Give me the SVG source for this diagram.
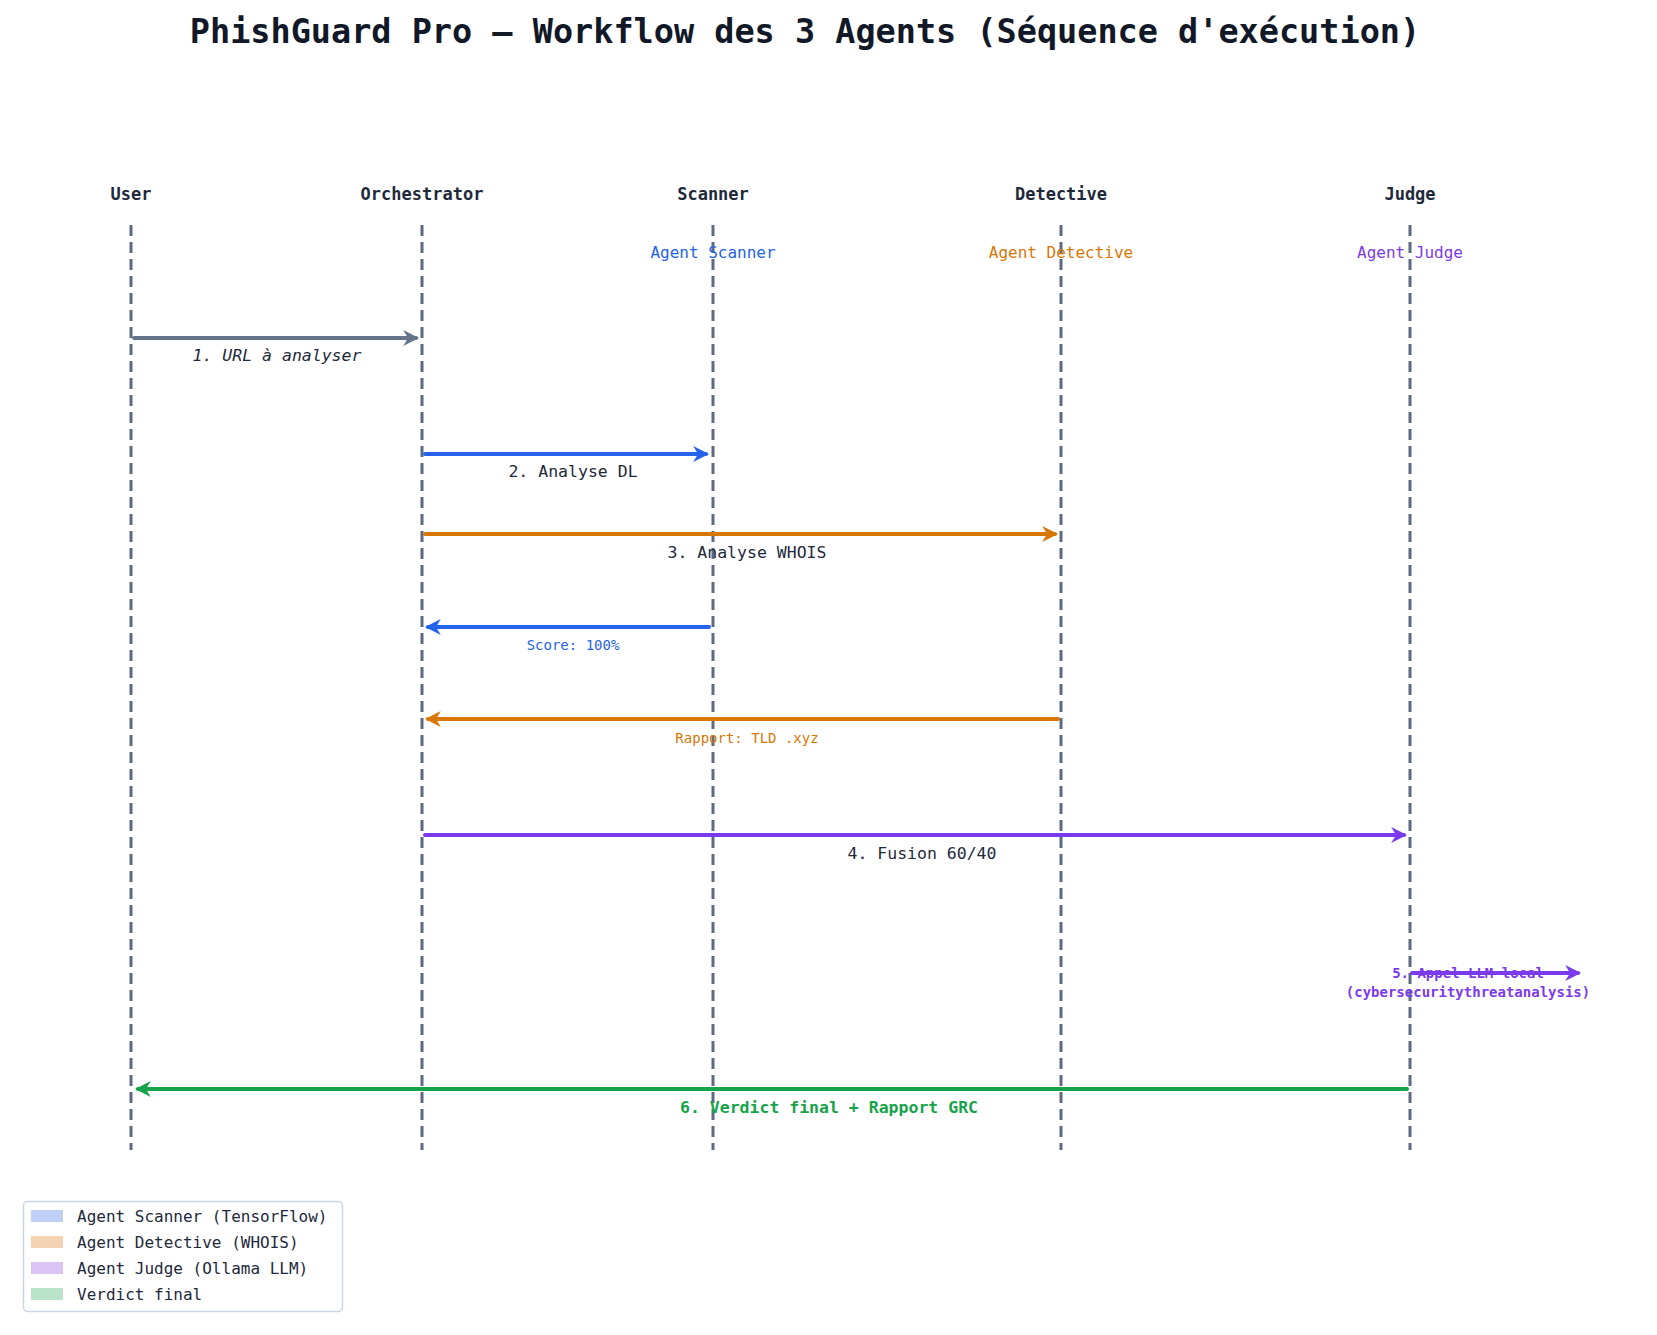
<svg xmlns="http://www.w3.org/2000/svg" width="1657" height="1335" viewBox="0 0 1657 1335">
<defs>
<style>
text{font-family:"DejaVu Sans Mono","Liberation Mono",monospace;}
.life{stroke:#5d6b82;stroke-width:3;stroke-dasharray:11,6;}
.hd{font-size:17px;font-weight:bold;fill:#1e293b;text-anchor:middle;}
.sub{font-size:16px;text-anchor:middle;}
.lb{font-size:16.5px;text-anchor:middle;}
.sm{font-size:14px;text-anchor:middle;}
.ar{stroke-width:4;fill:none;stroke-linecap:round;}
.lg{font-size:16px;fill:#1e293b;}
</style>
<marker id="mg" viewBox="0 0 10 10" refX="8" refY="5" markerWidth="4" markerHeight="4" orient="auto"><path d="M0,0L10,5L0,10L3,5Z" fill="#64748b"/></marker>
<marker id="mb" viewBox="0 0 10 10" refX="8" refY="5" markerWidth="4" markerHeight="4" orient="auto"><path d="M0,0L10,5L0,10L3,5Z" fill="#2563eb"/></marker>
<marker id="mo" viewBox="0 0 10 10" refX="8" refY="5" markerWidth="4" markerHeight="4" orient="auto"><path d="M0,0L10,5L0,10L3,5Z" fill="#d97706"/></marker>
<marker id="mp" viewBox="0 0 10 10" refX="8" refY="5" markerWidth="4" markerHeight="4" orient="auto"><path d="M0,0L10,5L0,10L3,5Z" fill="#7c3aed"/></marker>
<marker id="mgr" viewBox="0 0 10 10" refX="8" refY="5" markerWidth="4" markerHeight="4" orient="auto"><path d="M0,0L10,5L0,10L3,5Z" fill="#16a34a"/></marker>
</defs>
<rect width="1657" height="1335" fill="#fff"/>
<text x="805" y="43" font-size="33.5" font-weight="bold" fill="#111827" text-anchor="middle">PhishGuard Pro — Workflow des 3 Agents (Séquence d'exécution)</text>
<g id="user"><line class="life" x1="131" y1="225" x2="131" y2="1150"/><text class="hd" x="131" y="200">User</text></g>
<g id="orchestrator"><line class="life" x1="422" y1="225" x2="422" y2="1150"/><text class="hd" x="422" y="200">Orchestrator</text></g>
<g id="scanner"><line class="life" x1="713" y1="225" x2="713" y2="1150"/><text class="hd" x="713" y="200">Scanner</text><text class="sub" x="713" y="258" fill="#2563eb">Agent Scanner</text></g>
<g id="detective"><line class="life" x1="1061" y1="225" x2="1061" y2="1150"/><text class="hd" x="1061" y="200">Detective</text><text class="sub" x="1061" y="258" fill="#d97706">Agent Detective</text></g>
<g id="judge"><line class="life" x1="1410" y1="225" x2="1410" y2="1150"/><text class="hd" x="1410" y="200">Judge</text><text class="sub" x="1410" y="258" fill="#7c3aed">Agent Judge</text></g>
<g id="connectors">
<line class="ar" x1="134" y1="338" x2="416" y2="338" stroke="#64748b" marker-end="url(#mg)"/>
<text class="lb" x="277" y="361" font-style="italic" style="fill:#1e293b">1. URL à analyser</text>
<line class="ar" x1="425" y1="454" x2="706" y2="454" stroke="#2563eb" marker-end="url(#mb)"/>
<text class="lb" x="573" y="477" style="fill:#1e293b">2. Analyse DL</text>
<line class="ar" x1="425" y1="534" x2="1055" y2="534" stroke="#d97706" marker-end="url(#mo)"/>
<text class="lb" x="747" y="558" style="fill:#1e293b">3. Analyse WHOIS</text>
<line class="ar" x1="709" y1="627" x2="428" y2="627" stroke="#2563eb" marker-end="url(#mb)"/>
<text class="sm" x="573" y="650" style="fill:#2563eb">Score: 100%</text>
<line class="ar" x1="1058" y1="719" x2="428" y2="719" stroke="#d97706" marker-end="url(#mo)"/>
<text class="sm" x="747" y="743" style="fill:#d97706">Rapport: TLD .xyz</text>
<line class="ar" x1="425" y1="835" x2="1404" y2="835" stroke="#7c3aed" marker-end="url(#mp)"/>
<text class="lb" x="922" y="859" style="fill:#1e293b">4. Fusion 60/40</text>
<line class="ar" x1="1412" y1="973" x2="1578" y2="973" stroke="#7c3aed" marker-end="url(#mp)"/>
<text class="sm" x="1468" y="978" font-weight="bold" style="fill:#7c3aed">5. Appel LLM local</text>
<text class="sm" x="1468" y="997" font-weight="bold" style="fill:#7c3aed">(cybersecuritythreatanalysis)</text>
<line class="ar" x1="1407" y1="1089" x2="138" y2="1089" stroke="#16a34a" marker-end="url(#mgr)"/>
<text class="lb" x="829" y="1113" font-weight="bold" style="fill:#16a34a">6. Verdict final + Rapport GRC</text>
</g>
<g id="legend">
<rect x="23.5" y="1201.5" width="319" height="110" rx="4" fill="#fff" stroke="#cbd5e1" stroke-width="1.5"/>
<rect x="31" y="1210" width="32" height="12" fill="#bfcff5"/><text class="lg" x="77" y="1222">Agent Scanner (TensorFlow)</text>
<rect x="31" y="1236" width="32" height="12" fill="#f3d3b3"/><text class="lg" x="77" y="1248">Agent Detective (WHOIS)</text>
<rect x="31" y="1262" width="32" height="12" fill="#d9c4f5"/><text class="lg" x="77" y="1274">Agent Judge (Ollama LLM)</text>
<rect x="31" y="1288" width="32" height="12" fill="#b9e4c9"/><text class="lg" x="77" y="1300">Verdict final</text>
</g>
</svg>
